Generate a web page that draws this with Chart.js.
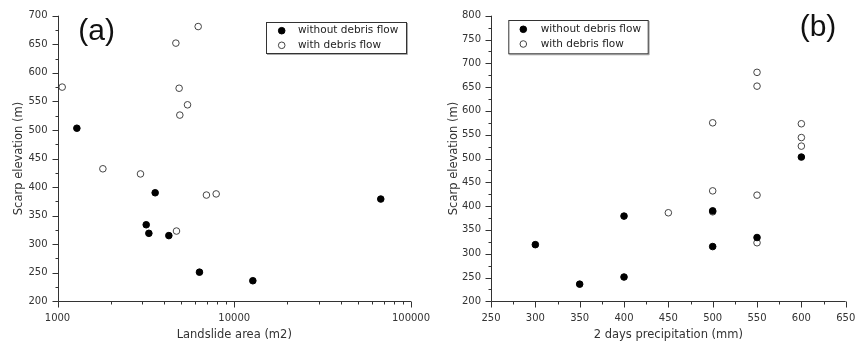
<!DOCTYPE html>
<html><head><meta charset="utf-8">
<script src="https://cdn.jsdelivr.net/npm/chart.js@4.4.1/dist/chart.umd.min.js"></script>
<style>
html,body{margin:0;padding:0;background:#fff;width:855px;height:345px;overflow:hidden}
#wa{position:absolute;left:0;top:0;width:435px;height:345px}
#wb{position:absolute;left:435px;top:0;width:420px;height:345px}
</style></head><body>
<div id="wa"><canvas id="ca"></canvas></div>
<div id="wb"><canvas id="cb"></canvas></div>
<script>
// ---- data ----
const seriesLabels = ['without debris flow', 'with debris flow'];
const panelLabels = ['(a)', '(b)'];
const xTitleA = 'Landslide area (m2)';
const xTitleB = '2 days precipitation (mm)';
const yTitle = 'Scarp elevation (m)';

// without debris flow
const areaWithout   = [1287, 3569, 3176, 3288, 4266, 6356, 12740, 67450];
const elevWithout   = [503, 390, 334, 319, 315, 251, 236, 379];
const precipWithout = [600, 500, 550, 300, 500, 400, 350, 400];
// with debris flow
const areaWith   = [1063, 1806, 2948, 4674, 6250, 4877, 5440, 4921, 6960, 7902, 4712];
const elevWith   = [575, 432, 423, 652, 681, 573, 544, 526, 386, 388, 323];
const precipWith = [500, 500, 550, 550, 550, 600, 600, 600, 450, 500, 550];

const xTicksA = [1000, 10000, 100000];
const yTicksA = [200, 250, 300, 350, 400, 450, 500, 550, 600, 650, 700];
const xTicksB = [250, 300, 350, 400, 450, 500, 550, 600, 650];
const yTicksB = [200, 250, 300, 350, 400, 450, 500, 550, 600, 650, 700, 750, 800];

// ---- helpers ----
const pts = (xs, ys) => xs.map((x, i) => ({x: x, y: ys[i]}));
const midpoints = arr => { const r = []; for (let i = 0; i < arr.length - 1; i++) r.push((arr[i] + arr[i + 1]) / 2); return r; };
const logMinor = arr => { const r = []; for (let i = 0; i < arr.length - 1; i++) for (let k = 2; k <= 9; k++) r.push(arr[i] * k); return r; };

const AXIS = '#333';
const FONT = "'DejaVu Sans', sans-serif";

const axisPlugin = {
  id: 'axisDraw',
  afterDraw(chart, args, o) {
    const ctx = chart.ctx;
    const {left, right, top, bottom} = chart.chartArea;
    const xs = chart.scales.x, ys = chart.scales.y;
    ctx.save();
    ctx.strokeStyle = AXIS; ctx.lineWidth = 1;
    ctx.beginPath();
    ctx.moveTo(Math.round(left) + 0.5, top);
    ctx.lineTo(Math.round(left) + 0.5, Math.round(bottom) + 0.5);
    ctx.lineTo(right, Math.round(bottom) + 0.5);
    ctx.stroke();
    const tx = (vals, len) => vals.forEach(v => {
      const p = Math.round(xs.getPixelForValue(v)) + 0.5;
      ctx.beginPath(); ctx.moveTo(p, Math.round(bottom) + 0.5); ctx.lineTo(p, Math.round(bottom) + 0.5 + len); ctx.stroke();
    });
    const ty = (vals, len) => vals.forEach(v => {
      const p = Math.round(ys.getPixelForValue(v)) + 0.5;
      ctx.beginPath(); ctx.moveTo(Math.round(left) + 0.5, p); ctx.lineTo(Math.round(left) + 0.5 - len, p); ctx.stroke();
    });
    tx(o.xMajor, 6); tx(o.xMinor, 3);
    ty(o.yMajor, 6); ty(o.yMinor, 3);

    // legend
    const L = o.legend;
    ctx.fillStyle = '#fff';
    ctx.fillRect(L.x, L.y, L.w, L.h);
    ctx.strokeStyle = '#aaa';
    ctx.beginPath(); ctx.moveTo(L.x + 1, L.y + L.h + 1.5); ctx.lineTo(L.x + L.w + 1.5, L.y + L.h + 1.5); ctx.lineTo(L.x + L.w + 1.5, L.y + 1); ctx.stroke();
    ctx.strokeStyle = AXIS;
    ctx.strokeRect(L.x + 0.5, L.y + 0.5, L.w, L.h);
    ctx.font = '10.5px ' + FONT;
    ctx.textBaseline = 'middle'; ctx.textAlign = 'left';
    chart.data.datasets.forEach((ds, i) => {
      const cy = L.rowY[i];
      ctx.beginPath(); ctx.arc(L.mx, cy, 3.3, 0, Math.PI * 2);
      ctx.fillStyle = ds.backgroundColor; ctx.fill();
      ctx.strokeStyle = ds.borderColor; ctx.lineWidth = 1; ctx.stroke();
      ctx.fillStyle = '#222';
      ctx.fillText(ds.label, L.tx, cy);
    });
    // panel label
    ctx.font = "30px 'Liberation Sans', Arial, sans-serif";
    ctx.fillStyle = '#111'; ctx.textAlign = 'center'; ctx.textBaseline = 'middle';
    ctx.fillText(o.panel.text, o.panel.x, o.panel.y);
    ctx.restore();
  }
};

function makeChart(id, cfg) {
  const fitY = s => { s.width = cfg.axisLeft; s.paddingTop = 0; s.paddingBottom = 0; };
  const fitX = s => { s.height = 43.7; s.paddingLeft = 0; s.paddingRight = 0; };
  return new Chart(document.getElementById(id), {
    type: 'scatter',
    data: {
      datasets: [
        {label: seriesLabels[0], data: cfg.d0, backgroundColor: '#000', borderColor: '#000', borderWidth: 1, pointRadius: 3.3},
        {label: seriesLabels[1], data: cfg.d1, backgroundColor: '#fff', borderColor: '#444', borderWidth: 1, pointRadius: 3.3}
      ]
    },
    options: {
      responsive: true, maintainAspectRatio: false, animation: false,
      layout: {padding: {top: 15.7, right: cfg.padRight, bottom: 0, left: 0}},
      plugins: {
        legend: {display: false}, tooltip: {enabled: false},
        axisDraw: cfg.axisOpts
      },
      scales: {
        x: {
          type: cfg.xType, min: cfg.xMin, max: cfg.xMax,
          afterBuildTicks: s => { s.ticks = cfg.xTicks.map(v => ({value: v})); },
          afterFit: fitX,
          grid: {display: false}, border: {display: false},
          ticks: {padding: 3, maxRotation: 0, autoSkip: false, color: '#333', font: {family: FONT, size: 10}, callback: v => String(v)},
          title: {display: true, text: cfg.xTitle, color: '#333', font: {family: FONT, size: 11.5}, padding: {top: 0, bottom: 3}}
        },
        y: {
          type: 'linear', min: cfg.yMin, max: cfg.yMax,
          afterBuildTicks: s => { s.ticks = cfg.yTicks.map(v => ({value: v})); },
          afterFit: fitY,
          grid: {display: false}, border: {display: false},
          ticks: {padding: 2, autoSkip: false, color: '#333', font: {family: FONT, size: 10}, callback: v => String(v)},
          title: {display: true, text: yTitle, color: '#333', font: {family: FONT, size: 11.5}, padding: {top: cfg.yTitlePad, bottom: 0}}
        }
      }
    },
    plugins: [axisPlugin]
  });
}

makeChart('ca', {
  d0: pts(areaWithout, elevWithout), d1: pts(areaWith, elevWith),
  xType: 'logarithmic', xMin: 1000, xMax: 100000, xTicks: xTicksA,
  yMin: 200, yMax: 700, yTicks: yTicksA,
  xTitle: xTitleA, axisLeft: 57.5, padRight: 24, yTitlePad: 12,
  axisOpts: {
    xMajor: xTicksA, xMinor: logMinor(xTicksA), yMajor: yTicksA, yMinor: midpoints(yTicksA),
    legend: {x: 266, y: 22, w: 140, h: 31, mx: 281.7, tx: 298, rowY: [30.7, 45.3]},
    panel: {text: panelLabels[0], x: 96.7, y: 31.7}
  }
});

makeChart('cb', {
  d0: pts(precipWithout, elevWithout), d1: pts(precipWith, elevWith),
  xType: 'linear', xMin: 250, xMax: 650, xTicks: xTicksB,
  yMin: 200, yMax: 800, yTicks: yTicksB,
  xTitle: xTitleB, axisLeft: 56, padRight: 9.3, yTitlePad: 12,
  axisOpts: {
    xMajor: xTicksB, xMinor: midpoints(xTicksB), yMajor: yTicksB, yMinor: midpoints(yTicksB),
    legend: {x: 73.3, y: 20, w: 139.4, h: 33.3, mx: 88.3, tx: 105.7, rowY: [29.3, 44]},
    panel: {text: panelLabels[1], x: 383, y: 28}
  }
});
</script>
</body></html>
